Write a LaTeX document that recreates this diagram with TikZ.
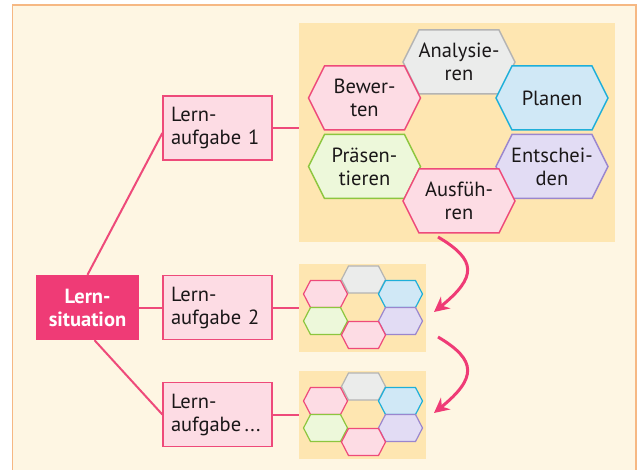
\documentclass[tikz,border=0pt]{standalone}
\usepackage{fontspec}
\setmainfont{PT Sans}
\usetikzlibrary{arrows.meta}
\definecolor{cream}{HTML}{FEF6E3}
\definecolor{frameor}{HTML}{F6B883}
\definecolor{panelbg}{HTML}{FEE6B1}
\definecolor{pinkline}{HTML}{EE4A7A}
\definecolor{pinkfill}{HTML}{FDDCE4}
\definecolor{lsfill}{HTML}{EF3B76}
\definecolor{greyfill}{HTML}{EBECEB}
\definecolor{greyline}{HTML}{B4B4B4}
\definecolor{bluefill}{HTML}{D0E8F6}
\definecolor{blueline}{HTML}{1EAFD9}
\definecolor{greenfill}{HTML}{EDF8DA}
\definecolor{greenline}{HTML}{8CC63E}
\definecolor{purplefill}{HTML}{E2DCF4}
\definecolor{purpleline}{HTML}{9A86CE}
\definecolor{textcol}{HTML}{1A1718}
\tikzset{
  lbox/.style={draw=pinkline, fill=pinkfill, line width=1.3pt, minimum width=109pt,
    minimum height=64pt, text width=93pt, align=left, inner sep=0pt,
    font=\fontsize{20.5}{23}\selectfont, text=textcol},
  lsbox/.style={fill=lsfill, minimum width=103pt, minimum height=65pt, align=center,
    inner sep=0pt, font=\fontsize{20.5}{23}\selectfont\bfseries, text=white},
  panel/.style={fill=panelbg, inner sep=0pt, outer sep=0pt},
  hextext/.style={align=center, inner sep=0pt, font=\fontsize{20.5}{23}\selectfont, text=textcol},
  conn/.style={draw=pinkline, line width=2pt},
  flow/.style={draw=lsfill, line width=3pt, -{Stealth[length=15pt, width=15pt]}},
  hgrey/.style={draw=greyline, fill=greyfill},
  hpink/.style={draw=pinkline, fill=pinkfill},
  hblue/.style={draw=blueline, fill=bluefill},
  hgreen/.style={draw=greenline, fill=greenfill},
  hpurple/.style={draw=purpleline, fill=purplefill},
}
\newcommand{\hexbig}[5]{%
  \draw[#4, line width=1.5pt] (#2-56,#3) -- ++(16,-32) -- ++(80,0) -- ++(16,32)
    -- ++(-16,32) -- ++(-80,0) -- cycle;
  \node[hextext] (#1) at (#2,#3) {#5};}
\newcommand{\hexsmall}[4]{%
  \draw[#4, line width=1.2pt] (#2-22,#3) -- ++(7,-13.5) -- ++(30,0) -- ++(7,13.5)
    -- ++(-7,13.5) -- ++(-30,0) -- cycle;
  \coordinate (#1) at (#2,#3);}
\newcommand{\smallset}[2]{% prefix, y offset
  \hexsmall{#1a}{363.5}{279.5+#2}{hgrey}
  \hexsmall{#1b}{325.5}{294+#2}{hpink}
  \hexsmall{#1c}{400.5}{294+#2}{hblue}
  \hexsmall{#1d}{325.5}{321+#2}{hgreen}
  \hexsmall{#1e}{400.5}{321+#2}{hpurple}
  \hexsmall{#1f}{363.5}{335+#2}{hpink}}
\begin{document}
\begin{tikzpicture}[x=1pt, y=-1pt]
\useasboundingbox (0,0) rectangle (637,470);
% frame
\fill[cream] (12.5,5) rectangle (636,472);
\draw[frameor, line width=1.5pt] (12.5,472) -- (12.5,5) -- (636,5) -- (636,472);
% panels
\node[panel, minimum width=316pt, minimum height=219pt] (p1) at (457,132.5) {};
\node[panel, minimum width=127pt, minimum height=88pt] (p2) at (362.5,308) {};
\node[panel, minimum width=127pt, minimum height=88pt] (p3) at (362.5,415) {};
% boxes
\node[lsbox] (ls) at (87.5,307.5) {Lern-\\situation};
\node[lbox] (la1) at (217.5,128) {Lern-\\aufgabe 1};
\node[lbox] (la2) at (217.5,307.5) {Lern-\\aufgabe 2};
\node[lbox] (la3) at (217.5,414.5) {Lern-\\aufgabe\,...};
% connectors
\draw[conn] (ls.north) -- ([yshift=-5pt]la1.west);
\draw[conn] (ls.east) -- (la2.west);
\draw[conn] ([xshift=7pt]ls.south) -- (la3.west);
\draw[conn] (la1.east) -- (la1.east -| p1.west);
\draw[conn] (la2.east) -- (la2.east -| p2.west);
\draw[conn] (la3.east) -- (la3.east -| p3.west);
% big hexagons
\hexbig{ana}{459}{62}{hgrey}{Analysie-\\ren}
\hexbig{bew}{364.5}{98}{hpink}{Bewer-\\ten}
\hexbig{pla}{552}{98}{hblue}{Planen}
\hexbig{pra}{364.5}{166.5}{hgreen}{Präsen-\\tieren}
\hexbig{ent}{552}{166.5}{hpurple}{Entschei-\\den}
\hexbig{aus}{459}{201}{hpink}{Ausfüh-\\ren}
% small hexagons
\smallset{s}{0}
\smallset{t}{107}
% flow arrows
\coordinate (f1s) at (438,237);
\coordinate (f1e) at (434,312);
\coordinate (f2s) at (438,337);
\coordinate (f2e) at (434,413);
\draw[flow] (f1s) .. controls (477,260) and (477,277) .. (f1e);
\draw[flow] (f2s) .. controls (477,360) and (477,378) .. (f2e);
\end{tikzpicture}
\end{document}
